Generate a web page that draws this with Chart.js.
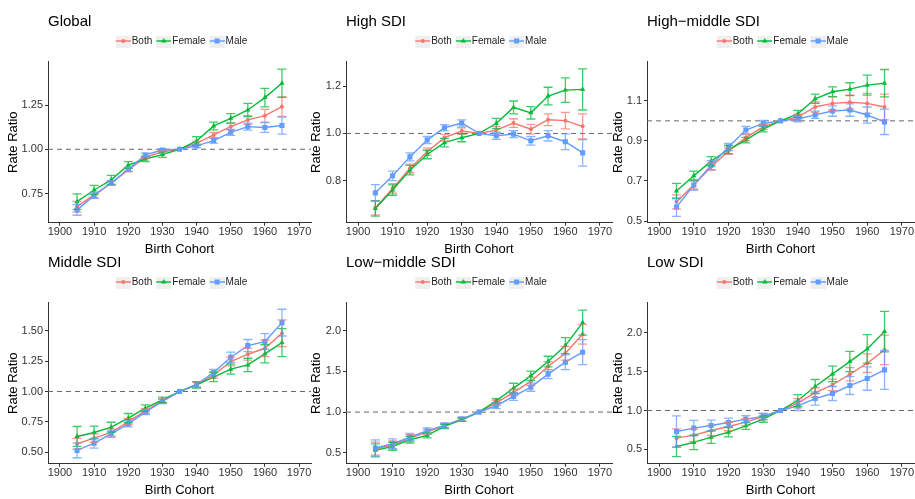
<!DOCTYPE html>
<html>
<head>
<meta charset="utf-8">
<title>Rate ratio by birth cohort</title>
<script src="https://cdn.jsdelivr.net/npm/chart.js@4.4.0/dist/chart.umd.min.js"></script>
<style>
  html, body { margin: 0; padding: 0; background: #fff; }
  #wrap { position: relative; width: 915px; height: 499px; overflow: hidden; }
  #wrap canvas { position: absolute; }
</style>
</head>
<body>
<div id="wrap"></div>
<script>
// birth cohorts (x) and axis ticks
const cohorts = [1905, 1910, 1915, 1920, 1925, 1930, 1935, 1940, 1945, 1950, 1955, 1960, 1965];
const xTicks = [1900, 1910, 1920, 1930, 1940, 1950, 1960, 1970];
const seriesNames = ['Both', 'Female', 'Male'];

// Global
const globalBoth      = [0.676, 0.742, 0.808, 0.883, 0.955, 0.985, 1, 1.034, 1.081, 1.128, 1.166, 1.190, 1.241];
const globalBothErr   = [0.030, 0.016, 0.012, 0.010, 0.008, 0.008, 0, 0.012, 0.015, 0.018, 0.024, 0.036, 0.055];
const globalFemale    = [0.704, 0.770, 0.827, 0.911, 0.945, 0.970, 1, 1.047, 1.132, 1.175, 1.222, 1.292, 1.373];
const globalFemaleErr = [0.044, 0.026, 0.025, 0.019, 0.014, 0.016, 0, 0.024, 0.022, 0.026, 0.037, 0.052, 0.080];
const globalMale      = [0.657, 0.738, 0.811, 0.887, 0.968, 0.996, 1, 1.019, 1.049, 1.096, 1.128, 1.123, 1.134];
const globalMaleErr   = [0.030, 0.015, 0.012, 0.010, 0.010, 0.008, 0, 0.010, 0.014, 0.017, 0.020, 0.028, 0.048];
const globalTicks = [0.75, 1.00, 1.25];

// High SDI
const highBoth      = [0.686, 0.768, 0.852, 0.923, 0.982, 1.010, 1, 1.014, 1.044, 1.018, 1.058, 1.054, 1.030];
const highBothErr   = [0.030, 0.020, 0.018, 0.015, 0.014, 0.014, 0, 0.015, 0.018, 0.020, 0.025, 0.035, 0.053];
const highFemale    = [0.683, 0.761, 0.845, 0.911, 0.961, 0.982, 1, 1.042, 1.110, 1.087, 1.158, 1.183, 1.186];
const highFemaleErr = [0.032, 0.022, 0.020, 0.018, 0.018, 0.017, 0, 0.022, 0.027, 0.026, 0.037, 0.052, 0.087];
const highMale      = [0.749, 0.821, 0.901, 0.972, 1.024, 1.044, 1, 0.990, 0.997, 0.969, 0.990, 0.965, 0.918];
const highMaleErr   = [0.035, 0.020, 0.017, 0.015, 0.013, 0.013, 0, 0.015, 0.015, 0.018, 0.022, 0.033, 0.056];
const highTicks = [0.8, 1.0, 1.2];

// High-middle SDI
const hmBoth      = [0.596, 0.680, 0.771, 0.849, 0.916, 0.970, 1, 1.019, 1.069, 1.087, 1.093, 1.087, 1.069];
const hmBothErr   = [0.035, 0.020, 0.018, 0.016, 0.015, 0.013, 0, 0.014, 0.025, 0.033, 0.035, 0.050, 0.064];
const hmFemale    = [0.650, 0.726, 0.799, 0.857, 0.904, 0.959, 1, 1.035, 1.110, 1.145, 1.158, 1.178, 1.188];
const hmFemaleErr = [0.038, 0.023, 0.023, 0.020, 0.014, 0.014, 0, 0.017, 0.023, 0.024, 0.032, 0.050, 0.068];
const hmMale      = [0.570, 0.680, 0.779, 0.869, 0.954, 0.987, 1, 1.009, 1.030, 1.049, 1.054, 1.029, 0.995];
const hmMaleErr   = [0.046, 0.027, 0.022, 0.018, 0.018, 0.015, 0, 0.014, 0.018, 0.026, 0.031, 0.040, 0.063];
const hmTicks = [0.5, 0.7, 0.9, 1.1];

// Middle SDI
const midBoth      = [0.570, 0.616, 0.663, 0.753, 0.841, 0.923, 1, 1.055, 1.137, 1.247, 1.307, 1.356, 1.479];
const midBothErr   = [0.045, 0.035, 0.030, 0.025, 0.020, 0.018, 0, 0.022, 0.027, 0.036, 0.048, 0.068, 0.110];
const midFemale    = [0.630, 0.663, 0.707, 0.781, 0.863, 0.932, 1, 1.055, 1.118, 1.184, 1.219, 1.310, 1.403];
const midFemaleErr = [0.082, 0.052, 0.040, 0.038, 0.027, 0.022, 0, 0.027, 0.037, 0.041, 0.055, 0.075, 0.115];
const midMale      = [0.515, 0.575, 0.652, 0.734, 0.830, 0.918, 1, 1.060, 1.156, 1.282, 1.378, 1.411, 1.567];
const midMaleErr   = [0.060, 0.040, 0.030, 0.025, 0.020, 0.018, 0, 0.022, 0.026, 0.042, 0.050, 0.065, 0.110];
const midTicks = [0.50, 0.75, 1.00, 1.25, 1.50];

// Low-middle SDI
const lmBoth      = [0.551, 0.596, 0.682, 0.755, 0.833, 0.914, 1, 1.114, 1.241, 1.376, 1.559, 1.722, 1.955];
const lmBothErr   = [0.080, 0.050, 0.040, 0.030, 0.025, 0.020, 0, 0.030, 0.040, 0.050, 0.060, 0.085, 0.122];
const lmFemale    = [0.531, 0.580, 0.661, 0.714, 0.824, 0.906, 1, 1.139, 1.294, 1.445, 1.620, 1.816, 2.098];
const lmFemaleErr = [0.080, 0.050, 0.040, 0.030, 0.025, 0.020, 0, 0.025, 0.060, 0.057, 0.065, 0.098, 0.153];
const lmMale      = [0.559, 0.612, 0.694, 0.771, 0.837, 0.914, 1, 1.078, 1.192, 1.306, 1.465, 1.612, 1.735];
const lmMaleErr   = [0.100, 0.060, 0.045, 0.035, 0.030, 0.025, 0, 0.035, 0.047, 0.050, 0.055, 0.090, 0.153];
const lmTicks = [0.5, 1.0, 1.5, 2.0];

// Low SDI
const lowBoth      = [0.644, 0.683, 0.743, 0.794, 0.850, 0.923, 1, 1.094, 1.231, 1.330, 1.467, 1.609, 1.780];
const lowBothErr   = [0.120, 0.080, 0.065, 0.055, 0.045, 0.040, 0, 0.060, 0.062, 0.075, 0.085, 0.120, 0.190];
const lowFemale    = [0.537, 0.589, 0.657, 0.721, 0.803, 0.889, 1, 1.129, 1.309, 1.471, 1.630, 1.793, 2.016];
const lowFemaleErr = [0.130, 0.092, 0.080, 0.060, 0.045, 0.040, 0, 0.075, 0.090, 0.100, 0.130, 0.185, 0.260];
const lowMale      = [0.730, 0.773, 0.807, 0.846, 0.889, 0.923, 1, 1.060, 1.154, 1.219, 1.321, 1.411, 1.523];
const lowMaleErr   = [0.200, 0.100, 0.070, 0.055, 0.045, 0.040, 0, 0.060, 0.085, 0.090, 0.115, 0.150, 0.250];
const lowTicks = [0.5, 1.0, 1.5, 2.0];

const colors = ['#F8766D', '#00BA38', '#619CFF'];
const shapes = ['circle', 'triangle', 'rect'];
const radii = [2, 3, 3.6];

const panels = [
  { title: 'Global', values: [globalBoth, globalFemale, globalMale], errs: [globalBothErr, globalFemaleErr, globalMaleErr], ticks: globalTicks, dec: 2, yMin: 0.585, yMax: 1.495, col: 0, row: 0 },
  { title: 'High SDI', values: [highBoth, highFemale, highMale], errs: [highBothErr, highFemaleErr, highMaleErr], ticks: highTicks, dec: 1, yMin: 0.623, yMax: 1.303, col: 1, row: 0 },
  { title: 'High\u2212middle SDI', values: [hmBoth, hmFemale, hmMale], errs: [hmBothErr, hmFemaleErr, hmMaleErr], ticks: hmTicks, dec: 1, yMin: 0.492, yMax: 1.295, col: 2, row: 0 },
  { title: 'Middle SDI', values: [midBoth, midFemale, midMale], errs: [midBothErr, midFemaleErr, midMaleErr], ticks: midTicks, dec: 2, yMin: 0.406, yMax: 1.731, col: 0, row: 1 },
  { title: 'Low\u2212middle SDI', values: [lmBoth, lmFemale, lmMale], errs: [lmBothErr, lmFemaleErr, lmMaleErr], ticks: lmTicks, dec: 1, yMin: 0.367, yMax: 2.342, col: 1, row: 1 },
  { title: 'Low SDI', values: [lowBoth, lowFemale, lowMale], errs: [lowBothErr, lowFemaleErr, lowMaleErr], ticks: lowTicks, dec: 1, yMin: 0.315, yMax: 2.388, col: 2, row: 1 }
];

// page layout
const plotLeft = [48, 346, 647];
const plotWidth = [263, 266, 267];
const yTitlePad = [5.5, 10.9, 11.5];
const rowTop = [0, 241];
const axisW = 48;
const canvasH = 258;

Chart.defaults.font.family = '"Liberation Sans", Arial, Helvetica, sans-serif';
Chart.defaults.color = '#333';

// legend keys: grey box with line and marker
function makeKey(color, shape) {
    const c = document.createElement('canvas');
    c.width = 23;
    c.height = 14;
    const g = c.getContext('2d');
    g.fillStyle = '#efefef';
    g.fillRect(8, 0, 15, 14);
    g.strokeStyle = color;
    g.lineWidth = 1.4;
    g.beginPath();
    g.moveTo(8, 7);
    g.lineTo(23, 7);
    g.stroke();
    g.fillStyle = color;
    g.beginPath();
    if (shape === 'circle') {
        g.arc(15.5, 7, 2, 0, Math.PI * 2);
    } else if (shape === 'triangle') {
        g.moveTo(15.5, 4);
        g.lineTo(18.2, 8.6);
        g.lineTo(12.8, 8.6);
        g.closePath();
    } else {
        g.rect(13, 4.5, 5, 5);
    }
    g.fill();
    return c;
}
const keyImages = colors.map((c, i) => makeKey(c, shapes[i]));

const refLinePlugin = {
    id: 'refLine',
    beforeDatasetsDraw(chart) {
        const {ctx, chartArea, scales} = chart;
        const y = scales.y.getPixelForValue(1);
        ctx.save();
        ctx.strokeStyle = '#666';
        ctx.lineWidth = 1;
        ctx.setLineDash([5, 4]);
        ctx.beginPath();
        ctx.moveTo(chartArea.left, y);
        ctx.lineTo(chartArea.right, y);
        ctx.stroke();
        ctx.restore();
    }
};

const errorBarPlugin = {
    id: 'errorBars',
    afterDatasetsDraw(chart) {
        const {ctx, scales} = chart;
        ctx.save();
        ctx.lineWidth = 1.3;
        ctx.globalAlpha = 0.75;
        chart.data.datasets.forEach(ds => {
            ctx.strokeStyle = ds.borderColor;
            ds.errors.forEach((e, i) => {
                if (!e) return;
                const x = scales.x.getPixelForValue(cohorts[i]);
                const yHi = scales.y.getPixelForValue(ds.data[i].y + e);
                const yLo = scales.y.getPixelForValue(ds.data[i].y - e);
                ctx.beginPath();
                ctx.moveTo(x, yHi); ctx.lineTo(x, yLo);
                ctx.moveTo(x - 4.5, yHi); ctx.lineTo(x + 4.5, yHi);
                ctx.moveTo(x - 4.5, yLo); ctx.lineTo(x + 4.5, yLo);
                ctx.stroke();
            });
        });
        ctx.restore();
    }
};

const wrap = document.getElementById('wrap');

panels.forEach(p => {
    const canvas = document.createElement('canvas');
    const w = axisW + plotWidth[p.col] + 20;
    canvas.width = w;
    canvas.height = canvasH;
    canvas.style.left = (plotLeft[p.col] - axisW) + 'px';
    canvas.style.top = rowTop[p.row] + 'px';
    canvas.style.width = w + 'px';
    canvas.style.height = canvasH + 'px';
    wrap.appendChild(canvas);

    const datasets = seriesNames.map((name, s) => ({
        label: name,
        data: cohorts.map((c, i) => ({x: c, y: p.values[s][i]})),
        errors: p.errs[s],
        borderColor: colors[s],
        backgroundColor: colors[s],
        borderWidth: 1.4,
        pointStyle: shapes[s],
        pointRadius: radii[s],
        pointBorderWidth: 0,
        tension: 0,
        fill: false,
        order: 2 - s
    }));

    new Chart(canvas, {
        type: 'line',
        data: { datasets },
        plugins: [refLinePlugin, errorBarPlugin],
        options: {
            responsive: false,
            animation: false,
            layout: { padding: { left: 0, right: 20, top: 0, bottom: 0 } },
            plugins: {
                title: {
                    display: true, text: p.title, align: 'start', fullSize: false, color: '#000',
                    font: { size: 15, weight: 'normal', lineHeight: 1.2 },
                    padding: { top: 12.5, bottom: 5.5 }
                },
                legend: {
                    display: true, position: 'top', fullSize: false,
                    labels: {
                        usePointStyle: true, pointStyleWidth: 15, padding: 0, color: '#222',
                        font: { size: 10 },
                        generateLabels: chart => Chart.defaults.plugins.legend.labels.generateLabels(chart)
                            .map(item => Object.assign(item, { pointStyle: keyImages[item.datasetIndex] })),
                        sort: (a, b) => a.datasetIndex - b.datasetIndex
                    }
                },
                subtitle: {
                    display: true, text: '', weight: 100, fullSize: false,
                    font: { size: 1, lineHeight: 1 }, padding: { top: 4.7, bottom: 0 }
                },
                tooltip: { enabled: false }
            },
            scales: {
                x: {
                    type: 'linear', min: 1896.5, max: 1973.5,
                    afterBuildTicks: s => { s.ticks = xTicks.map(v => ({ value: v })); },
                    afterFit: s => { s.height = 35.3; },
                    ticks: { padding: 0, color: '#333', font: { size: 11 }, maxRotation: 0, callback: v => String(v) },
                    grid: { drawOnChartArea: false, drawTicks: true, tickLength: 3, color: '#333' },
                    border: { display: true, color: '#333', width: 1 },
                    title: { display: true, text: 'Birth Cohort', color: '#000', font: { size: 13 }, padding: { top: 0, bottom: 0.4 } }
                },
                y: {
                    type: 'linear', min: p.yMin, max: p.yMax,
                    afterBuildTicks: s => { s.ticks = p.ticks.map(v => ({ value: v })); },
                    afterFit: s => { s.width = axisW; },
                    ticks: { padding: 2, color: '#333', font: { size: 11 }, callback: v => Number(v).toFixed(p.dec) },
                    grid: { drawOnChartArea: false, drawTicks: true, tickLength: 3, color: '#333' },
                    border: { display: true, color: '#333', width: 1 },
                    title: { display: true, text: 'Rate Ratio', color: '#000', font: { size: 13 }, padding: { top: yTitlePad[p.col], bottom: 0 } }
                }
            }
        }
    });
});
</script>
</body>
</html>
